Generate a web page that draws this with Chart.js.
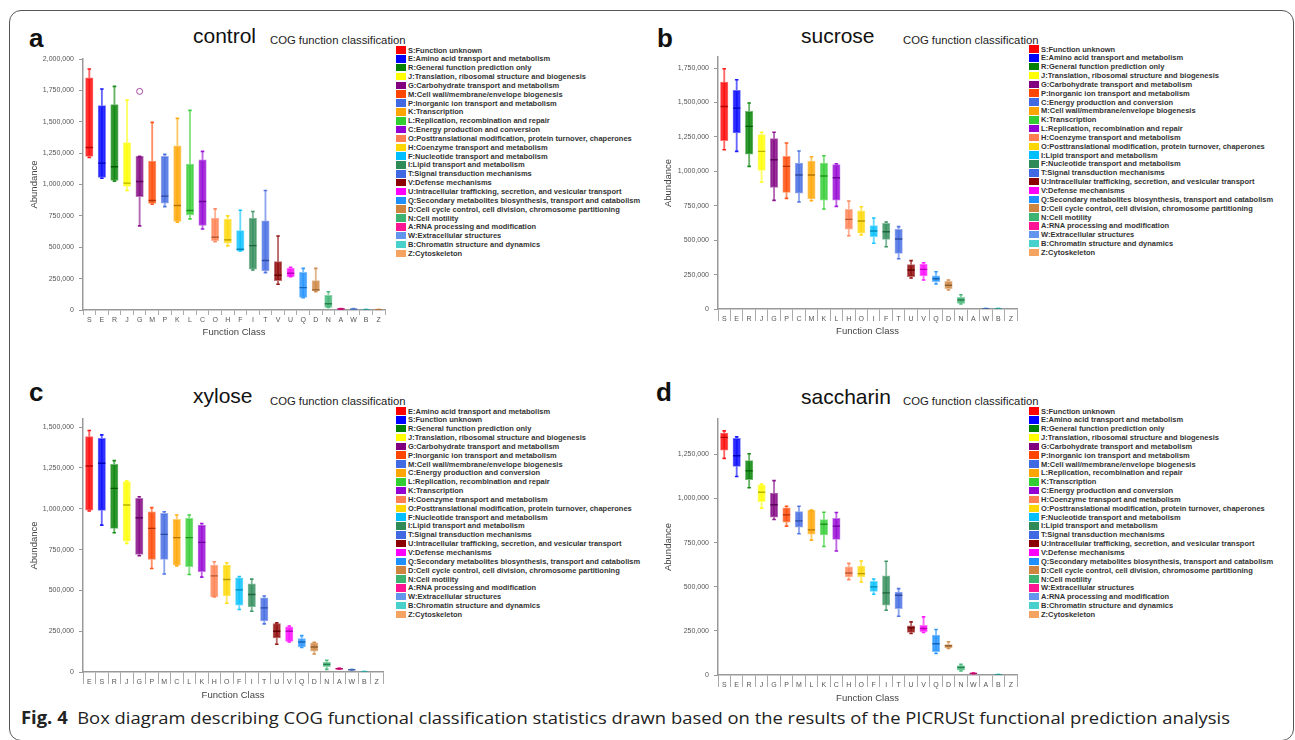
<!DOCTYPE html>
<html>
<head>
<meta charset="utf-8">
<script src="https://cdn.jsdelivr.net/npm/chart.js@4.4.0/dist/chart.umd.min.js"></script>
<style>
body { margin:0; width:1295px; height:740px; overflow:hidden; background:#fff; position:relative; font-family:"Liberation Sans", Arial, sans-serif; }
.frame { position:absolute; left:9px; top:10px; width:1285px; height:731px; border:1.5px solid #555; border-radius:12px; box-sizing:border-box; }
canvas { position:absolute; }
.letter { position:absolute; font-weight:bold; font-size:26px; line-height:26px; color:#111; }
.ttl { position:absolute; font-size:21px; line-height:21px; color:#111; white-space:nowrap; }
.sub { position:absolute; font-size:11.3px; line-height:11.3px; color:#222; white-space:nowrap; }
.leg { position:absolute; }
.li { height:8.85px; display:flex; align-items:center; font-weight:bold; font-size:7.5px; color:#333; white-space:nowrap; }
.sw { width:10px; height:7.5px; margin-right:2px; flex:none; }
#cap { position:absolute; left:21px; top:706px; font-family:"Open Sans", "Noto Sans", sans-serif; font-size:17px; color:#222; white-space:nowrap; transform-origin:0 0; }
#cap b { font-weight:bold; }
</style>
</head>
<body>
<div class="frame"></div>

<div class="letter" style="left:29px;top:25px">a</div>
<div class="ttl" style="left:193px;top:25px">control</div>
<div class="sub" style="left:270px;top:34.5px">COG function classification</div>
<div class="leg" id="legA" style="left:396px;top:45.6px"></div>
<canvas id="cA" width="395" height="300" style="left:0;top:40px"></canvas>

<div class="letter" style="left:657px;top:25px">b</div>
<div class="ttl" style="left:801px;top:25px">sucrose</div>
<div class="sub" style="left:903px;top:34.5px">COG function classification</div>
<div class="leg" id="legB" style="left:1029px;top:44.6px"></div>
<canvas id="cB" width="385" height="299" style="left:640px;top:40px"></canvas>

<div class="letter" style="left:29px;top:379px">c</div>
<div class="ttl" style="left:193px;top:385px">xylose</div>
<div class="sub" style="left:270px;top:395.5px">COG function classification</div>
<div class="leg" id="legC" style="left:396px;top:406.6px"></div>
<canvas id="cC" width="395" height="302" style="left:0;top:400px"></canvas>

<div class="letter" style="left:656px;top:379px">d</div>
<div class="ttl" style="left:801px;top:386px">saccharin</div>
<div class="sub" style="left:903px;top:395.5px">COG function classification</div>
<div class="leg" id="legD" style="left:1029px;top:406.6px"></div>
<canvas id="cD" width="385" height="305" style="left:640px;top:400px"></canvas>

<div id="cap"><b>Fig. 4</b>&nbsp; Box diagram describing COG functional classification statistics drawn based on the results of the PICRUSt functional prediction analysis</div>

<script>
// COG class names
const names = {
  S: 'Function unknown', E: 'Amino acid transport and metabolism', R: 'General function prediction only',
  J: 'Translation, ribosomal structure and biogenesis', G: 'Carbohydrate transport and metabolism',
  M: 'Cell wall/membrane/envelope biogenesis', P: 'Inorganic ion transport and metabolism', K: 'Transcription',
  L: 'Replication, recombination and repair', C: 'Energy production and conversion',
  O: 'Posttranslational modification, protein turnover, chaperones', H: 'Coenzyme transport and metabolism',
  F: 'Nucleotide transport and metabolism', I: 'Lipid transport and metabolism', T: 'Signal transduction mechanisms',
  V: 'Defense mechanisms', U: 'Intracellular trafficking, secretion, and vesicular transport',
  Q: 'Secondary metabolites biosynthesis, transport and catabolism',
  D: 'Cell cycle control, cell division, chromosome partitioning', N: 'Cell motility',
  A: 'RNA processing and modification', W: 'Extracellular structures', B: 'Chromatin structure and dynamics',
  Z: 'Cytoskeleton'
};
// colours go by rank, not by class
const palette = ['#FF0000','#0000FF','#008000','#FFFF00','#800080','#FF4500','#4169E1','#FFA500','#32CD32','#9400D3',
  '#FF7F50','#FFD700','#00BFFF','#2E8B57','#4169E1','#8B0000','#FF00FF','#1E90FF','#CD853F','#3CB371',
  '#FF1493','#6495ED','#48D1CC','#F4A460'];
const yStep = 250000;

// a: control
const catsA = ['S','E','R','J','G','M','P','K','L','C','O','H','F','I','T','V','U','Q','D','N','A','W','B','Z'];
const minA = [1215000,1050000,1027000,952000,670000,843000,824000,700000,726000,646000,545000,511000,471000,319000,298000,205000,266000,98000,146000,21000,4000,4000,2000,2000];
const q1A  = [1224000,1056000,1032000,984000,904000,850000,851000,705000,758000,673000,553000,532000,471000,325000,311000,234000,266000,101000,152000,21000,5000,5000,2000,2000];
const medA = [1295000,1170000,1141000,1011000,1024000,872000,907000,833000,793000,865000,580000,559000,484000,513000,394000,277000,293000,178000,160000,50000,8000,7000,3000,3000];
const q3A  = [1849000,1628000,1636000,1335000,1224000,1186000,1224000,1309000,1162000,1197000,732000,724000,633000,732000,710000,386000,332000,300000,234000,117000,11000,10000,5000,5000];
const maxA = [1920000,1761000,1782000,1673000,1224000,1495000,1240000,1527000,1591000,1264000,806000,750000,795000,785000,952000,590000,340000,332000,332000,146000,12000,11000,6000,6000];
const outA = [null,null,null,null,1742000,null,null,null,null,null,null,null,null,null,null,null,null,null,null,null,null,null,null,null];

// b: sucrose
const catsB = ['S','E','R','J','G','P','C','M','K','L','H','O','I','F','T','U','V','Q','D','N','A','W','B','Z'];
const minB = [1157000,1145000,1036000,922000,789000,803000,777000,786000,726000,745000,532000,537000,477000,452000,365000,225000,211000,182000,138000,36000,null,0,0,null];
const q1B  = [1222000,1278000,1125000,1007000,883000,847000,842000,799000,791000,791000,579000,550000,525000,506000,404000,235000,240000,198000,147000,41000,null,0,0,null];
const medB = [1471000,1459000,1326000,1145000,1084000,1036000,973000,973000,966000,953000,651000,639000,566000,561000,508000,283000,288000,220000,172000,65000,null,2000,2000,null];
const q3B  = [1648000,1588000,1435000,1266000,1237000,1108000,1060000,1074000,1060000,1048000,724000,712000,605000,622000,579000,322000,327000,240000,201000,85000,null,4000,4000,null];
const maxB = [1745000,1665000,1496000,1283000,1283000,1205000,1147000,1106000,1113000,1055000,784000,743000,661000,632000,598000,351000,336000,271000,211000,104000,null,5000,5000,null];

// c: xylose
const catsC = ['E','S','R','J','G','P','M','C','L','K','H','O','F','I','T','U','V','Q','D','N','A','W','B','Z'];
const minC = [986000,900000,853000,788000,712000,634000,600000,650000,597000,581000,460000,421000,383000,372000,295000,170000,184000,150000,110000,16000,17000,11000,0,null];
const q1C  = [992000,990000,880000,802000,720000,690000,690000,655000,645000,614000,460000,466000,409000,399000,313000,209000,188000,153000,127000,33000,18000,12000,0,null];
const medC = [1262000,1279000,1125000,1023000,945000,880000,843000,823000,823000,794000,589000,567000,503000,475000,393000,250000,250000,184000,153000,47000,20000,14000,1000,null];
const q3C  = [1443000,1432000,1273000,1166000,1064000,982000,972000,935000,941000,900000,655000,655000,577000,540000,454000,297000,276000,205000,178000,61000,22000,16000,3000,null];
const maxC = [1480000,1453000,1295000,1172000,1074000,1007000,982000,962000,962000,910000,675000,669000,585000,569000,466000,301000,282000,223000,182000,72000,24000,17000,4000,null];

// d: saccharin
const catsD = ['S','E','R','J','G','P','M','L','K','C','H','O','F','I','T','U','V','Q','D','N','W','A','B','Z'];
const minD = [1227000,1124000,1061000,945000,881000,843000,800000,764000,728000,702000,540000,527000,457000,367000,333000,235000,241000,122000,151000,23000,6000,null,0,null];
const q1D  = [1274000,1182000,1107000,982000,894000,866000,837000,798000,794000,768000,555000,555000,474000,395000,376000,241000,245000,132000,154000,28000,7000,null,0,null];
const medD = [1346000,1242000,1156000,1035000,964000,907000,873000,822000,854000,843000,578000,574000,499000,465000,452000,267000,263000,177000,166000,43000,9000,null,1000,null];
const q3D  = [1370000,1340000,1214000,1077000,1031000,947000,926000,934000,881000,888000,612000,617000,531000,561000,469000,279000,282000,226000,173000,53000,11000,null,3000,null];
const maxD = [1383000,1349000,1253000,1082000,1101000,956000,956000,934000,922000,920000,632000,646000,544000,644000,489000,301000,329000,258000,188000,60000,12000,null,4000,null];

const FONT = '"Liberation Sans", Arial, sans-serif';

function hexRgb(h) { const n = parseInt(h.slice(1), 16); return [n >> 16 & 255, n >> 8 & 255, n & 255]; }
function rgba(h, a) { const c = hexRgb(h); return 'rgba(' + c[0] + ',' + c[1] + ',' + c[2] + ',' + a + ')'; }
function mix(h, t, f) { const c = hexRgb(h), d = hexRgb(t); return 'rgb(' + c.map((v, i) => Math.round(v + (d[i] - v) * f)).join(',') + ')'; }

function legend(id, cats) {
  const el = document.getElementById(id);
  cats.forEach((c, i) => {
    const row = document.createElement('div');
    row.className = 'li';
    row.innerHTML = '<span class="sw" style="background:' + palette[i] + '"></span>' + c + ':' + names[c];
    el.appendChild(row);
  });
}

function panel(id, cats, mins, q1s, meds, q3s, maxs, outs, o) {
  const cols = palette.slice(0, cats.length);
  const ds = [
    { type: 'bar', data: cats.map((c, i) => mins[i] == null ? null : [mins[i], maxs[i]]),
      backgroundColor: cols.map(c => rgba(c, 0.6)), barThickness: 1.2, grouped: false, order: 6 },
    { type: 'bar', data: cats.map((c, i) => q1s[i] == null ? null : [q1s[i], q3s[i]]),
      backgroundColor: cols.map(c => rgba(c, 0.8)), borderColor: cols.map(c => mix(c, '#ffffff', 0.45)),
      borderWidth: 1, borderSkipped: false, barThickness: 7.5, grouped: false, order: 5 },
    { type: 'line', data: maxs, showLine: false, pointStyle: 'line', pointRadius: 1.8, pointBorderWidth: 1.6,
      pointBorderColor: cols.map(c => rgba(c, 0.85)), order: 4 },
    { type: 'line', data: mins, showLine: false, pointStyle: 'line', pointRadius: 1.8, pointBorderWidth: 1.6,
      pointBorderColor: cols.map(c => rgba(c, 0.85)), order: 3 },
    { type: 'line', data: meds, showLine: false, pointStyle: 'line', pointRadius: 3.6, pointBorderWidth: 1.4,
      pointBorderColor: cols.map(c => mix(c, '#000000', 0.3)), order: 2 }
  ];
  if (outs) ds.push({ type: 'line', data: outs, showLine: false, pointStyle: 'circle', pointRadius: 3,
    pointBorderWidth: 1, pointBorderColor: cols.map(c => rgba(c, 0.7)), pointBackgroundColor: 'rgba(0,0,0,0)', order: 1 });

  new Chart(document.getElementById(id), {
    type: 'bar',
    data: { labels: cats, datasets: ds },
    options: {
      responsive: false, animation: false, devicePixelRatio: 1,
      layout: { padding: { left: 0, right: o.padR, top: o.padT, bottom: 0 } },
      plugins: { legend: { display: false }, tooltip: { enabled: false } },
      scales: {
        x: {
          offset: true,
          afterFit: s => { s.height = 30; },
          ticks: { autoSkip: false, maxRotation: 0, font: { size: 7, family: FONT }, color: '#555', padding: o.xPad },
          grid: { offset: true, drawOnChartArea: false, drawTicks: true, tickLength: o.xTick, color: '#aaa' },
          border: { display: true, color: '#999', width: 1.5 },
          title: { display: true, text: 'Function Class', font: { size: 9.5, family: FONT }, color: '#444',
            padding: { top: 0, bottom: o.xTitlePad } }
        },
        y: {
          min: 0, max: o.ymax,
          // ticks every 250,000 even when the axis top is not on a step
          afterBuildTicks: s => {
            const t = [];
            for (let v = 0; v <= o.ymax; v += yStep) t.push({ value: v });
            s.ticks = t;
          },
          afterFit: s => { s.width = o.yW; },
          ticks: { font: { size: 7, family: FONT }, color: '#555', padding: 5,
            callback: v => Number(v).toLocaleString('en-US') },
          grid: { drawOnChartArea: false, drawTicks: true, tickLength: 4, color: '#999' },
          border: { display: true, color: '#999', width: 1.5 },
          title: { display: true, text: 'Abundance', font: { size: 9.5, family: FONT }, color: '#444',
            padding: { top: o.yTitlePad, bottom: 0 } }
        }
      }
    }
  });
}

legend('legA', catsA);
legend('legB', catsB);
legend('legC', catsC);
legend('legD', catsD);

panel('cA', catsA, minA, q1A, medA, q3A, maxA, outA, { ymax: 2000000, yW: 83, padR: 10, padT: 19, xTick: 5, xPad: 0.5, xTitlePad: 2.3, yTitlePad: 28.3 });
panel('cB', catsB, minB, q1B, medB, q3B, maxB, null, { ymax: 1830000, yW: 78, padR: 8, padT: 17, xTick: 12, xPad: -6, xTitlePad: 1.6, yTitlePad: 22.3 });
panel('cC', catsC, minC, q1C, medC, q3C, maxC, null, { ymax: 1550000, yW: 83, padR: 12, padT: 19, xTick: 12, xPad: -6, xTitlePad: 1.3, yTitlePad: 28.3 });
panel('cD', catsD, minD, q1D, medD, q3D, maxD, null, { ymax: 1450000, yW: 78, padR: 8, padT: 19, xTick: 12, xPad: -6, xTitlePad: 1.3, yTitlePad: 22.3 });

// squeeze the caption to the width it has in the figure
const cap = document.getElementById('cap');
cap.style.transform = 'scaleX(' + (1209 / cap.getBoundingClientRect().width) + ')';
</script>
</body>
</html>
